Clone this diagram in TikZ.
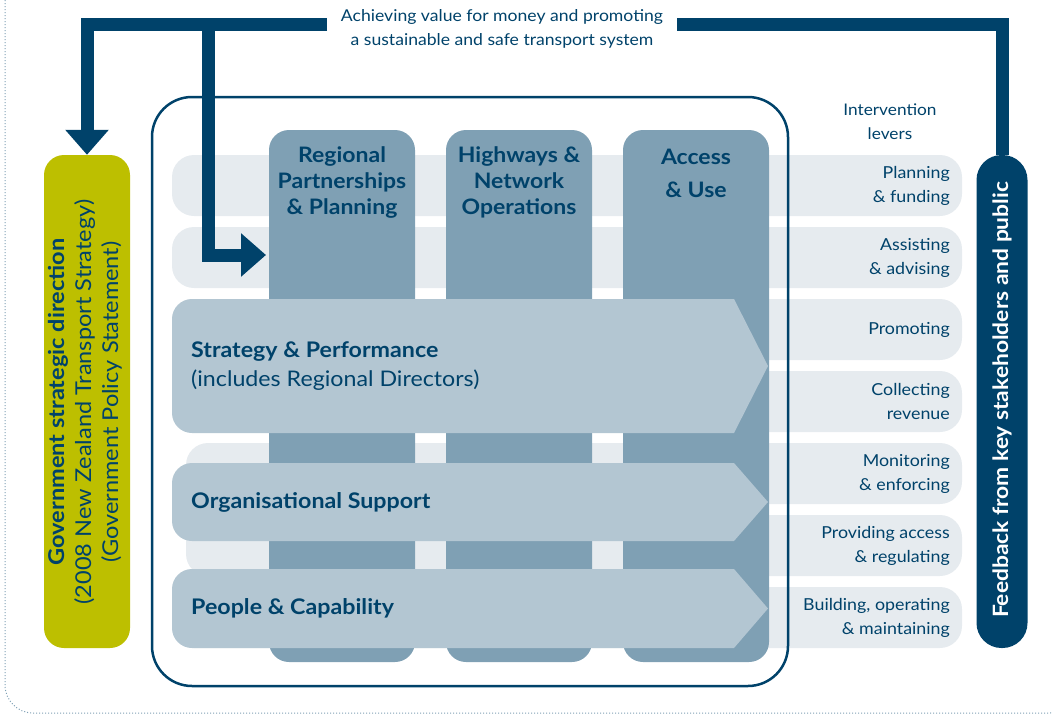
\documentclass[tikz,border=0pt]{standalone}
\usepackage{fontspec}
\setmainfont[FakeStretch=1.08]{Lato}
\usetikzlibrary{arrows.meta}
\definecolor{nzblue}{HTML}{00426A}
\definecolor{leverbg}{HTML}{E6EBEF}
\definecolor{groupbg}{HTML}{7FA0B4}
\definecolor{chevronbg}{HTML}{B3C6D2}
\definecolor{govgreen}{HTML}{BDBF00}
\begin{document}
\begin{tikzpicture}[x=1pt,y=-1pt,
    lever/.style={fill=leverbg, rounded corners=22pt},
    leverlabel/.style={anchor=east, align=right, inner sep=0pt, text=nzblue, font=\fontsize{16.5}{24}\selectfont},
    group/.style={fill=groupbg, rounded corners=20pt, inner sep=0pt, minimum width=146pt, minimum height=532pt},
    grouptitle/.style={align=center, inner sep=0pt, text=nzblue, font=\fontsize{21.3}{26}\selectfont\bfseries},
    chevron/.style={fill=chevronbg},
    chevronlabel/.style={anchor=west, align=left, inner sep=0pt, text=nzblue, font=\fontsize{21.5}{29}\selectfont},
    flow/.style={draw=nzblue, line width=13pt},
    bigtip/.style={-{Triangle[width=42pt,length=25pt]}},
  ]
  \useasboundingbox (0,0) rectangle (1052,715);
  \draw[dotted, draw=groupbg, line width=1pt, rounded corners=28pt] (5,-40) rectangle (1078,713);

  % intervention levers
  \foreach \ytop/\xleft/\txt [count=\i] in {155/172/{Planning\\\& funding}, 227/172/{Assisting\\\& advising},
      299/172/{Promoting}, 371/172/{Collecting\\revenue}, 443/186/{Monitoring\\\& enforcing},
      515/186/{Providing access\\\& regulating}, 587/172/{Building, operating\\\& maintaining}}{
    \fill[lever] (\xleft,\ytop) rectangle (962,\ytop+61);
    \node[leverlabel] (lever\i) at (950,\ytop+30.5) {\txt};
  }
  \node[align=center, text=nzblue, font=\fontsize{16}{24}\selectfont] (levers) at (890,122) {Intervention\\levers};

  % groups
  \node[group] (rpp) at (342,396) {};
  \node[group] (hno) at (519,396) {};
  \node[group] (acc) at (696,396) {};
  \node[grouptitle] (rpptitle) at (342,182.5) {Regional\\Partnerships\\\& Planning};
  \node[grouptitle] (hnotitle) at (519,182.5) {Highways \&\\Network\\Operations};
  \node[grouptitle] (acctitle) at (696,173.5) {Access\\[7pt]\& Use};

  % cross-cutting functions
  \foreach \ya/\yb in {299/433, 463/541, 569/648}{
    \fill[chevron] (400,\ya) -- (734,\ya) -- (768,{(\ya+\yb)/2}) -- (734,\yb) -- (400,\yb)
      [rounded corners=20pt] -- (172,\yb) -- (172,\ya) -- cycle;
  }
  \node[chevronlabel] (strat) at (191,366) {\textbf{Strategy \& Performance}\\(includes Regional Directors)};
  \node[chevronlabel] (org) at (191,502) {\textbf{Organisational Support}};
  \node[chevronlabel] (people) at (191,608) {\textbf{People \& Capability}};

  \draw[nzblue, line width=2.5pt, rounded corners=40pt] (152,97) rectangle (788,686);

  % direction and feedback
  \node[fill=govgreen, rounded corners=20pt, minimum width=86pt, minimum height=493pt, inner sep=0pt] (gov) at (87,401.5) {};
  \node[rotate=90, align=center, inner sep=0pt, text=nzblue, font=\fontsize{21.8}{27}\selectfont] (govtext) at (85,402)
    {\textbf{Government strategic direction}\\(2008 New Zealand Transport Strategy)\\(Government Policy Statement)};
  \node[fill=nzblue, rounded corners=25pt, minimum width=51pt, minimum height=493pt, inner sep=0pt] (feedback) at (1002,401.5) {};
  \node[rotate=90, inner sep=0pt, text=white, font=\fontsize{21.1}{26}\selectfont\bfseries] (feedbacktext) at (1002,400)
    {Feedback from key stakeholders and public};

  \node[align=center, text=nzblue, font=\fontsize{16.3}{24}\selectfont] (goal) at (502,29)
    {Achieving value for money and promoting\\a sustainable and safe transport system};
  \coordinate (goalL) at (327,24);
  \coordinate (goalR) at (677,24);
  \coordinate (branch) at (208,24);
  \coordinate (entry) at (266,255);
  \draw[flow] (feedback.north) |- (goalR);
  \draw[flow, bigtip] (goalL) -| (gov.north);
  \draw[flow, bigtip] (branch) |- (entry);
\end{tikzpicture}
\end{document}
